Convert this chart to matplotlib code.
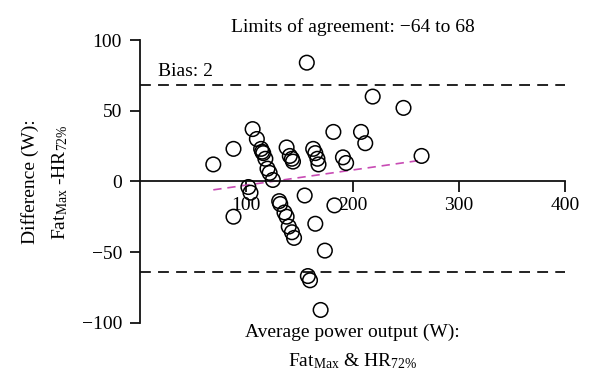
import numpy as np
import matplotlib
matplotlib.use("Agg")
import matplotlib.pyplot as plt

plt.rcParams['font.family'] = ['Liberation Serif', 'DejaVu Serif']
plt.rcParams['mathtext.default'] = 'regular'

# --- données ---
avg_power = [69, 88, 106, 110, 114, 115, 116, 118, 120, 122, 125,
             138, 141, 143, 144, 163, 165, 167, 168, 182, 157, 219,
             248, 208, 212, 191, 194, 265,
             102, 104, 88, 131, 132, 136, 138, 140, 143, 145,
             155, 183, 165, 174, 158, 160, 170]
difference = [12, 23, 37, 30, 23, 21, 20, 16, 9, 6, 1,
              24, 18, 16, 14, 23, 20, 16, 12, 35, 84, 60,
              52, 35, 27, 17, 13, 18,
              -4, -8, -25, -14, -16, -22, -25, -32, -36, -40,
              -10, -17, -30, -49, -67, -70, -91]

bias = 2
loa_low, loa_high = -64, 68
trend_x = [69, 265]
trend_y = [-6, 15]

x_ticks = [100, 200, 300, 400]
y_ticks = [-100, -50, 0, 50, 100]

# --- figure ---
fig = plt.figure(figsize=(6, 3.89), dpi=100)
ax = fig.add_axes([0.2333, 0.1705, 0.7084, 0.7265])

ax.scatter(avg_power, difference, s=110, facecolors='none',
           edgecolors='black', linewidths=1.1, zorder=3)

ax.plot([0, 400], [loa_high, loa_high], color='#111111', lw=1.3,
        linestyle=(0, (6, 4)))
ax.plot([0, 400], [loa_low, loa_low], color='#111111', lw=1.3,
        linestyle=(0, (6, 4)))
ax.plot(trend_x, trend_y, color='#c84bb4', lw=1.2, linestyle=(0, (5, 3.5)))

ax.set_xlim(0, 400)
ax.set_ylim(-100, 100)

ax.spines['top'].set_visible(False)
ax.spines['right'].set_visible(False)
ax.spines['bottom'].set_position(('data', 0))
ax.spines['left'].set_linewidth(1.3)
ax.spines['bottom'].set_linewidth(1.3)
ax.spines['left'].set_color('#111111')
ax.spines['bottom'].set_color('#111111')

ax.set_xticks(x_ticks)
ax.set_yticks(y_ticks)
ax.tick_params(axis='x', direction='out', length=8, width=1.3, pad=3,
               labelsize=14, color='#111111')
ax.tick_params(axis='y', direction='out', length=7, width=1.3, pad=6,
               labelsize=14, color='#111111')

ax.text(200, 109, "Limits of agreement: \u221264 to 68", ha='center',
        va='center', fontsize=14, clip_on=False)
ax.text(17, 78, "Bias: %d" % bias, ha='left', va='center', fontsize=14)

fig.text(0.05, 0.532, "Difference (W):", rotation=90, ha='center',
         va='center', fontsize=14)
fig.text(0.1, 0.532, "Fat$_{Max}$ -HR$_{72\\%}$", rotation=90,
         ha='center', va='center', fontsize=14)

fig.text(0.587, 0.146, "Average power output (W):", ha='center',
         va='center', fontsize=14)
fig.text(0.587, 0.072, "Fat$_{Max}$ & HR$_{72\\%}$", ha='center',
         va='center', fontsize=14)

fig.savefig("out.png", dpi=100)
